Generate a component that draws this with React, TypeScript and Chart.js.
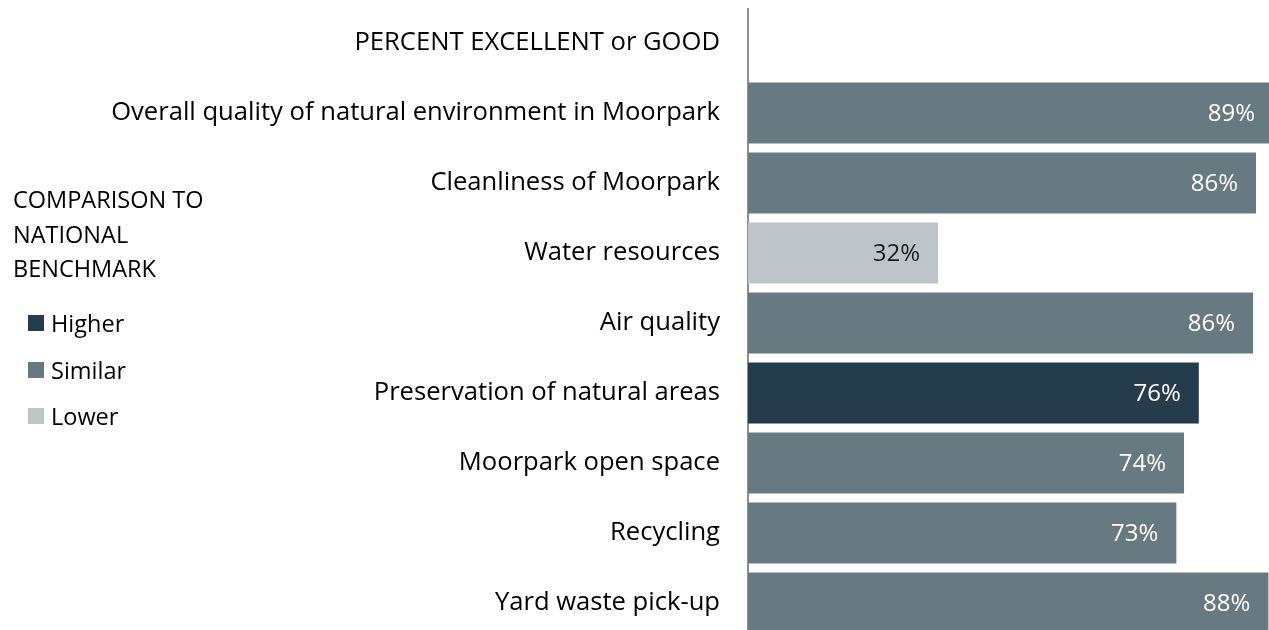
import React, { useEffect, useRef } from "react";
import { Chart, registerables } from "chart.js";

Chart.register(...registerables);

const categories = [
  "PERCENT EXCELLENT or GOOD",
  "Overall quality of natural environment in Moorpark",
  "Cleanliness of Moorpark",
  "Water resources",
  "Air quality",
  "Preservation of natural areas",
  "Moorpark open space",
  "Recycling",
  "Yard waste pick-up",
];
const values: (number | null)[] = [null, 89, 86.1, 32.2, 85.6, 76.4, 73.9, 72.6, 88.2];
const comparisons = ["", "Similar", "Similar", "Lower", "Similar", "Higher", "Similar", "Similar", "Similar"];
const groups = ["Higher", "Similar", "Lower"];
const groupColors: Record<string, string> = {
  Higher: "#253c4c",
  Similar: "#687a81",
  Lower: "#bdc5c8",
};
const labelColors: Record<string, string> = {
  Higher: "#ffffff",
  Similar: "#ffffff",
  Lower: "#1a1a1a",
};
const legendTitle = ["COMPARISON TO", "NATIONAL", "BENCHMARK"];
const FONT = "'Open Sans', Lato, sans-serif";

const valueLabels = {
  id: "valueLabels",
  afterDatasetsDraw(chart: any) {
    const ctx = chart.ctx;
    ctx.save();
    ctx.font = `24px ${FONT}`;
    ctx.textAlign = "right";
    ctx.textBaseline = "middle";
    chart.data.datasets.forEach((ds: any, di: number) => {
      const meta = chart.getDatasetMeta(di);
      meta.data.forEach((el: any, i: number) => {
        const v = ds.data[i];
        if (v == null) return;
        ctx.fillStyle = labelColors[ds.label];
        ctx.fillText(`${Math.round(v)}%`, el.x - 18, el.y + 1);
      });
    });
    ctx.restore();
  },
};

export default function App() {
  const ref = useRef<HTMLCanvasElement>(null);
  useEffect(() => {
    if (!ref.current) return;
    const datasets = groups.map((g) => ({
      label: g,
      data: values.map((v, i) => (comparisons[i] === g ? v : null)),
      backgroundColor: groupColors[g],
      borderWidth: 0,
      barPercentage: 0.87,
      categoryPercentage: 1,
    }));
    const chart = new Chart(ref.current, {
      type: "bar",
      data: { labels: categories, datasets },
      options: {
        indexAxis: "y",
        animation: false,
        responsive: true,
        maintainAspectRatio: false,
        layout: { padding: 0 },
        plugins: { legend: { display: false }, tooltip: { enabled: false } },
        scales: {
          x: { display: false, stacked: true, min: 0, max: 88.3 },
          y: {
            stacked: true,
            grid: { display: false, drawTicks: false },
            border: { display: true, color: "#8f8f8f", width: 2 },
            ticks: {
              autoSkip: false,
              padding: 28,
              color: "#000000",
              font: { family: FONT, size: 25.6 },
            },
            afterFit: (scale: any) => {
              scale.width = 740;
              scale.paddingTop = 0;
              scale.paddingBottom = 0;
            },
          },
        },
      },
      plugins: [valueLabels],
    });
    return () => chart.destroy();
  }, []);

  return (
    <div
      style={{
        position: "fixed",
        left: 0,
        top: 0,
        width: 1269,
        height: 630,
        overflow: "hidden",
        background: "#fff",
        fontFamily: FONT,
      }}
    >
      <div style={{ position: "absolute", left: 8, top: 8, width: 1261, height: 630 }}>
        <canvas ref={ref} />
      </div>
      <div
        style={{
          position: "absolute",
          left: 13,
          top: 182,
          fontSize: 23.5,
          lineHeight: "34.5px",
          color: "#000",
          whiteSpace: "nowrap",
        }}
      >
        {legendTitle.map((t) => (
          <div key={t}>{t}</div>
        ))}
      </div>
      {groups.map((g, i) => (
        <div
          key={g}
          style={{
            position: "absolute",
            left: 28,
            top: 323 + i * 46.5 - 17,
            height: 34,
            display: "flex",
            alignItems: "center",
            fontSize: 23.5,
            color: "#000",
          }}
        >
          <span style={{ display: "inline-block", width: 16, height: 16, background: groupColors[g], marginRight: 7 }} />
          <span>{g}</span>
        </div>
      ))}
    </div>
  );
}
